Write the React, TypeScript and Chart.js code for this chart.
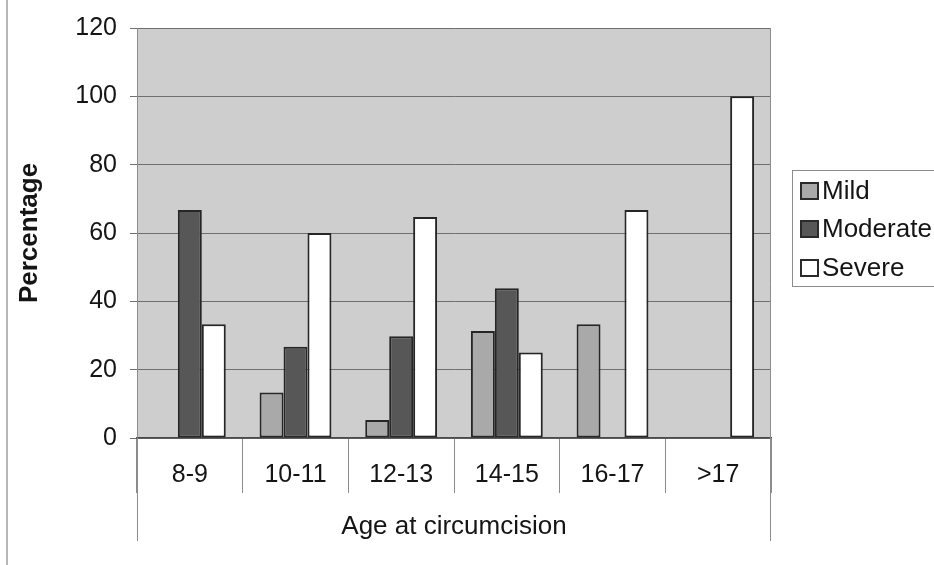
import { useEffect, useRef } from "react";
import { Chart, registerables } from "chart.js";

Chart.register(...registerables);

// Share of cases by severity for each age group at circumcision (%)
const categories = ["8-9", "10-11", "12-13", "14-15", "16-17", ">17"];
const mild = [0, 13.3, 5.3, 31.3, 33.3, 0];
const moderate = [66.7, 26.7, 29.8, 43.8, 0, 0];
const severe = [33.3, 60, 64.7, 25, 66.7, 100];
const seriesNames = ["Mild", "Moderate", "Severe"];
const yMin = 0;
const yMax = 120;
const yStep = 20;

const FONT = '"Liberation Sans", Arial, Helvetica, sans-serif';
const TEXT = "#151515";
const W = 934;
const H = 565;

const framePlugin = {
  id: "frame",
  beforeDraw(chart: any) {
    const { ctx, chartArea: a } = chart;
    ctx.save();
    ctx.fillStyle = "#cecece";
    ctx.fillRect(a.left, a.top, a.right - a.left, a.bottom - a.top);
    ctx.restore();
  },
  afterDraw(chart: any) {
    const { ctx, chartArea: a } = chart;
    const line = (x1: number, y1: number, x2: number, y2: number) => {
      ctx.beginPath();
      ctx.moveTo(x1, y1);
      ctx.lineTo(x2, y2);
      ctx.stroke();
    };
    ctx.save();
    // page edge on the left
    ctx.strokeStyle = "#b8b8b8";
    ctx.lineWidth = 2;
    line(7, 0, 7, H);

    // outer frame of the category table below the plot
    ctx.strokeStyle = "#8c8c8c";
    ctx.lineWidth = 1;
    line(Math.round(a.left) + 0.5, a.top, Math.round(a.left) + 0.5, 541);
    line(Math.round(a.right) - 0.5, a.top, Math.round(a.right) - 0.5, 541);

    // legend with a thin border
    const boxX = 792.5;
    const boxY = 170.5;
    ctx.strokeStyle = "#8c8c8c";
    ctx.lineWidth = 1;
    ctx.strokeRect(boxX, boxY, 160, 116);
    const rowY = [191, 229, 268];
    ctx.font = `26px ${FONT}`;
    ctx.textBaseline = "middle";
    ctx.textAlign = "left";
    chart.data.datasets.forEach((ds: any, i: number) => {
      const cy = rowY[i];
      ctx.fillStyle = "#2a2a2a";
      ctx.fillRect(800, cy - 9, 19, 18);
      ctx.fillStyle = ds.backgroundColor;
      ctx.fillRect(802, cy - 7, 15, 14);
      ctx.fillStyle = TEXT;
      ctx.fillText(ds.label, 822, cy + 1);
    });
    ctx.restore();
  },
};

export default function App() {
  const ref = useRef<HTMLCanvasElement | null>(null);

  useEffect(() => {
    if (!ref.current) return;
    const barStyle = { borderColor: "#262626", borderWidth: 2, borderSkipped: false as const };
    const chart = new Chart(ref.current, {
      type: "bar",
      data: {
        labels: categories,
        datasets: [
          { label: seriesNames[0], data: mild, backgroundColor: "#a9a9a9", ...barStyle },
          { label: seriesNames[1], data: moderate, backgroundColor: "#575757", ...barStyle },
          { label: seriesNames[2], data: severe, backgroundColor: "#ffffff", ...barStyle },
        ],
      },
      options: {
        responsive: false,
        animation: false,
        devicePixelRatio: 1,
        layout: { padding: { top: 25, right: 163, left: 0, bottom: 0 } },
        datasets: { bar: { categoryPercentage: 0.68, barPercentage: 1 } },
        plugins: {
          legend: { display: false },
          tooltip: { enabled: false },
        },
        scales: {
          x: {
            afterFit(scale: any) {
              scale.height = 127;
            },
            grid: {
              display: true,
              drawOnChartArea: false,
              drawTicks: true,
              tickLength: 55,
              offset: true,
              color: "#8c8c8c",
              lineWidth: 1,
            },
            border: { display: true, color: "#4a4a4a", width: 1.5 },
            ticks: {
              padding: -33,
              maxRotation: 0,
              autoSkip: false,
              color: TEXT,
              font: { family: FONT, size: 25 },
            },
            title: {
              display: true,
              text: "Age at circumcision",
              color: TEXT,
              font: { family: FONT, size: 26 },
              padding: { top: 0, bottom: 23 },
            },
          },
          y: {
            min: yMin,
            max: yMax,
            afterFit(scale: any) {
              scale.width = 137;
            },
            ticks: {
              stepSize: yStep,
              padding: 13,
              color: TEXT,
              font: { family: FONT, size: 25 },
            },
            grid: { color: "#6f6f6f", lineWidth: 1, tickLength: 7 },
            border: { display: true, color: "#8c8c8c", width: 1 },
            title: {
              display: true,
              text: "Percentage",
              color: TEXT,
              font: { family: FONT, size: 26, weight: "bold" },
              padding: { top: 14, bottom: 0 },
            },
          },
        },
      },
      plugins: [framePlugin],
    });
    return () => chart.destroy();
  }, []);

  return (
    <div style={{ position: "absolute", left: 0, top: 0, width: W, height: H, background: "#fff" }}>
      <canvas ref={ref} width={W} height={H} style={{ display: "block" }} />
    </div>
  );
}
